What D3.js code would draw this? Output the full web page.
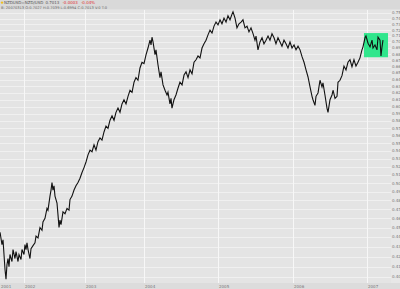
<!DOCTYPE html>
<html lang="en">
<head>
<meta charset="UTF-8">
<title>NZD/USD</title>
<script src="https://cdnjs.cloudflare.com/ajax/libs/d3/7.8.5/d3.min.js"></script>
<style>
  body { margin: 0; background: #e6e6e6; overflow: hidden; }
  svg { display: block; font-family: "DejaVu Sans", sans-serif; }
</style>
</head>
<body>
<div id="chart"></div>
<script>
const width = 400, height = 289;

// time as decimal years, rate NZD/USD
const years = [
  2001.607, 2001.639, 2001.656, 2001.689, 2001.705, 2001.721, 2001.738, 2001.754, 2001.770, 2001.803,
  2001.820, 2001.852, 2001.869, 2001.902, 2001.918, 2001.951, 2001.967, 2002.000,
  2002.016, 2002.033, 2002.049, 2002.066, 2002.098, 2002.115, 2002.148, 2002.180, 2002.197, 2002.230,
  2002.262, 2002.295, 2002.311, 2002.344, 2002.377, 2002.393, 2002.426, 2002.443, 2002.459, 2002.475,
  2002.492, 2002.508, 2002.541, 2002.557, 2002.574, 2002.590, 2002.607, 2002.639, 2002.672, 2002.705,
  2002.738, 2002.754, 2002.787, 2002.820, 2002.852, 2002.885, 2002.918, 2002.951, 2002.984,
  2003.017, 2003.051, 2003.085, 2003.119, 2003.153, 2003.186, 2003.220, 2003.254, 2003.288, 2003.322,
  2003.356, 2003.390, 2003.424, 2003.458, 2003.492, 2003.525, 2003.559, 2003.593, 2003.627, 2003.661,
  2003.695, 2003.729, 2003.763, 2003.797, 2003.831, 2003.864, 2003.898, 2003.932, 2003.966, 2004.000,
  2004.027, 2004.054, 2004.081, 2004.095, 2004.108, 2004.122, 2004.149, 2004.162, 2004.189, 2004.216,
  2004.230, 2004.257, 2004.284, 2004.311, 2004.324, 2004.351, 2004.365, 2004.378, 2004.405, 2004.432,
  2004.459, 2004.486, 2004.514, 2004.541, 2004.568, 2004.595, 2004.622, 2004.649, 2004.676, 2004.703,
  2004.730, 2004.757, 2004.784, 2004.811, 2004.838, 2004.865, 2004.892, 2004.919, 2004.946, 2004.973,
  2005.000, 2005.027, 2005.053, 2005.080, 2005.107, 2005.133, 2005.160, 2005.187, 2005.200, 2005.227,
  2005.253, 2005.280, 2005.307, 2005.333, 2005.360, 2005.387, 2005.413, 2005.440, 2005.467, 2005.493,
  2005.507, 2005.533, 2005.560, 2005.587, 2005.613, 2005.640, 2005.667, 2005.693, 2005.720, 2005.747,
  2005.773, 2005.800, 2005.827, 2005.853, 2005.880, 2005.907, 2005.933, 2005.960, 2005.987,
  2006.014, 2006.041, 2006.068, 2006.095, 2006.122, 2006.149, 2006.176, 2006.203, 2006.230, 2006.257,
  2006.270, 2006.297, 2006.311, 2006.338, 2006.365, 2006.392, 2006.405, 2006.432, 2006.459, 2006.473,
  2006.500, 2006.527, 2006.541, 2006.568, 2006.595, 2006.608, 2006.635, 2006.662, 2006.689, 2006.716,
  2006.743, 2006.770, 2006.797, 2006.824, 2006.851, 2006.878, 2006.905, 2006.932, 2006.946, 2006.973,
  2006.986, 2007.014, 2007.041, 2007.068, 2007.081, 2007.108, 2007.135, 2007.149, 2007.176, 2007.189,
  2007.203, 2007.216
];
const rates = [
  0.445, 0.432, 0.437, 0.407, 0.398, 0.412, 0.418, 0.410, 0.422, 0.415,
  0.427, 0.418, 0.425, 0.415, 0.422, 0.417, 0.427, 0.422,
  0.432, 0.427, 0.434, 0.427, 0.418, 0.428, 0.431, 0.434, 0.441, 0.439,
  0.450, 0.447, 0.456, 0.460, 0.471, 0.469, 0.485, 0.492, 0.501, 0.492,
  0.497, 0.485, 0.477, 0.464, 0.450, 0.458, 0.453, 0.467, 0.465, 0.471,
  0.469, 0.481, 0.485, 0.492, 0.497, 0.501, 0.506, 0.513, 0.519,
  0.526, 0.535, 0.541, 0.539, 0.548, 0.541, 0.552, 0.557, 0.554, 0.565,
  0.573, 0.570, 0.581, 0.587, 0.581, 0.592, 0.598, 0.592, 0.604, 0.610,
  0.604, 0.615, 0.624, 0.621, 0.636, 0.643, 0.639, 0.658, 0.667, 0.665,
  0.679, 0.690, 0.703, 0.695, 0.708, 0.700, 0.679, 0.687, 0.663, 0.643,
  0.652, 0.632, 0.624, 0.617, 0.621, 0.604, 0.612, 0.598, 0.610, 0.617,
  0.627, 0.636, 0.632, 0.647, 0.652, 0.643, 0.655, 0.649, 0.667, 0.671,
  0.677, 0.674, 0.690, 0.697, 0.703, 0.712, 0.720, 0.715, 0.727, 0.734,
  0.729, 0.738, 0.731, 0.741, 0.734, 0.745, 0.738, 0.748, 0.752, 0.741,
  0.724, 0.731, 0.734, 0.738, 0.724, 0.727, 0.717, 0.724, 0.714, 0.703,
  0.710, 0.687, 0.700, 0.707, 0.697, 0.703, 0.710, 0.703, 0.714, 0.707,
  0.697, 0.707, 0.700, 0.693, 0.703, 0.697, 0.690, 0.700, 0.690,
  0.695, 0.687, 0.693, 0.687, 0.676, 0.667, 0.655, 0.644, 0.629, 0.615,
  0.610, 0.602, 0.615, 0.620, 0.639, 0.629, 0.635, 0.617, 0.598, 0.592,
  0.610, 0.617, 0.624, 0.612, 0.615, 0.636, 0.639, 0.646, 0.661, 0.655,
  0.667, 0.671, 0.660, 0.671, 0.661, 0.667, 0.674, 0.687, 0.692, 0.707,
  0.710, 0.698, 0.692, 0.703, 0.690, 0.695, 0.687, 0.708, 0.703, 0.677,
  0.692, 0.703
];

// axis labels
const yearTicks = [2001.607, 2002, 2003, 2004, 2005, 2006, 2007];
const yearLabels = ["2001", "2002", "2003", "2004", "2005", "2006", "2007"];
const rateTicks = [0.40, 0.41, 0.42, 0.43, 0.44, 0.45, 0.46, 0.47, 0.48, 0.49,
  0.50, 0.51, 0.52, 0.53, 0.54, 0.55, 0.56, 0.57, 0.58, 0.59,
  0.60, 0.61, 0.62, 0.63, 0.64, 0.65, 0.66, 0.67, 0.68, 0.69,
  0.70, 0.71, 0.72, 0.73, 0.74, 0.75];

// highlighted range at the end
const boxYears = [2006.959, 2007.284];
const boxRates = [0.675, 0.715];

const plotTop = 10, plotBottom = 283, plotRight = 391;

const x = d3.scaleLinear()
  .domain([2001, 2002, 2003, 2004, 2005, 2006, 2007, 2008])
  .range([-37, 24, 85, 144, 218, 293, 367, 441]);
const y = d3.scaleLog().domain([0.40, 0.75]).range([277, 13]);

const svg = d3.select("#chart").append("svg")
  .attr("width", width).attr("height", height);

// backgrounds
svg.append("rect").attr("width", width).attr("height", height).attr("fill", "#e7e7e7");
svg.append("rect").attr("x", 0).attr("y", plotTop).attr("width", plotRight).attr("height", plotBottom - plotTop)
  .attr("fill", "#e4e4e4");
svg.append("rect").attr("width", width).attr("height", 9.5).attr("fill", "#d9d9d9");
svg.append("rect").attr("y", plotBottom).attr("width", width).attr("height", height - plotBottom).attr("fill", "#dcdcdc");

// grid
svg.append("g").selectAll("line").data(rateTicks).join("line")
  .attr("x1", 0).attr("x2", plotRight)
  .attr("y1", d => Math.round(y(d)) + 0.5).attr("y2", d => Math.round(y(d)) + 0.5)
  .attr("stroke", "#f0f0f0").attr("stroke-width", 1);
svg.append("g").selectAll("line").data(yearTicks.slice(1)).join("line")
  .attr("x1", d => Math.round(x(d)) + 0.5).attr("x2", d => Math.round(x(d)) + 0.5)
  .attr("y1", plotTop).attr("y2", plotBottom)
  .attr("stroke", "#f7f7f7").attr("stroke-width", 1);

// highlight box
svg.append("rect")
  .attr("x", x(boxYears[0])).attr("width", x(boxYears[1]) - x(boxYears[0]))
  .attr("y", y(boxRates[1])).attr("height", y(boxRates[0]) - y(boxRates[1]))
  .attr("fill", "#30e68c");

// price line
const pts = years.map((t, i) => [t, rates[i]]);
svg.append("path")
  .datum(pts)
  .attr("fill", "none")
  .attr("stroke", "#111")
  .attr("stroke-width", 1.1)
  .attr("stroke-linejoin", "miter")
  .attr("d", d3.line().x(d => x(d[0])).y(d => y(d[1])));

// right axis labels
svg.append("g").selectAll("text").data(rateTicks).join("text")
  .attr("x", 392).attr("y", d => y(d))
  .attr("dy", "0.35em")
  .attr("font-size", 4)
  .attr("fill", "#777")
  .text(d => d.toFixed(2));

// bottom axis labels
svg.append("g").selectAll("text").data(yearTicks).join("text")
  .attr("x", d => x(d) + 1).attr("y", 288)
  .attr("font-size", 4)
  .attr("fill", "#777")
  .text((d, i) => yearLabels[i]);

// header
const h1 = svg.append("text").attr("x", 4).attr("y", 4).attr("font-size", 4).attr("fill", "#555");
h1.append("tspan").text("NZDUSD=NZD/USD");
h1.append("tspan").attr("dx", 2).text("0.7013");
h1.append("tspan").attr("dx", 3).attr("fill", "#e03030").text("-0.0003");
h1.append("tspan").attr("dx", 3).attr("fill", "#e03030").text("-0.04%");
svg.append("circle").attr("cx", 2).attr("cy", 2.6).attr("r", 1.2).attr("fill", "#f0c020");
svg.append("text").attr("x", 1).attr("y", 8.5).attr("font-size", 3.6).attr("fill", "#666")
  .text("B: 20070313 O:0.7027 H:0.7039 L:0.6994 C:0.7013 V:0 T:0");
</script>
</body>
</html>
